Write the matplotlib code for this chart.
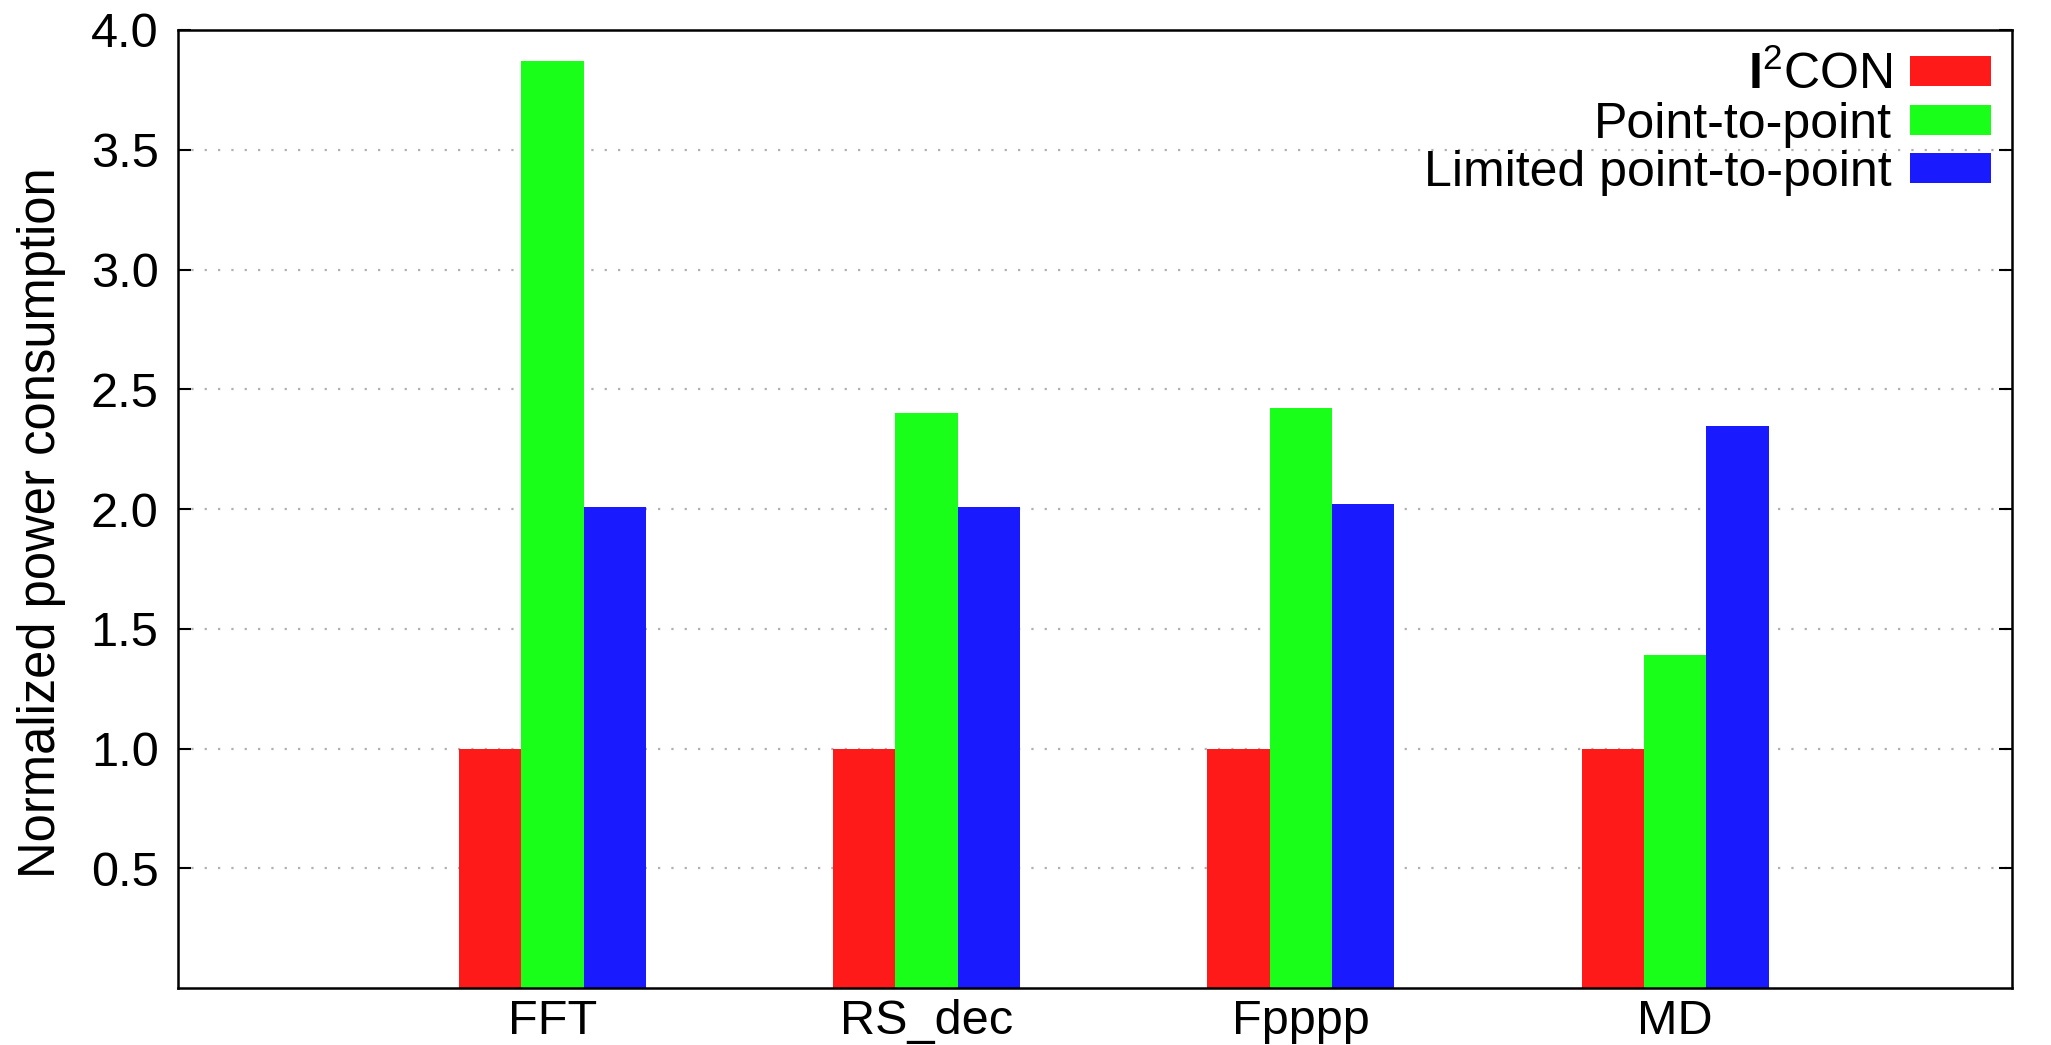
import numpy as np
import matplotlib
matplotlib.use('Agg')
import matplotlib.pyplot as plt

plt.rcParams['font.family'] = ['Liberation Sans', 'DejaVu Sans']
plt.rcParams['mathtext.fontset'] = 'custom'
plt.rcParams['mathtext.rm'] = 'Liberation Sans'
plt.rcParams['mathtext.it'] = 'Liberation Sans:italic'
plt.rcParams['mathtext.bf'] = 'Liberation Sans:bold'

benchmarks = ['FFT', 'RS_dec', 'Fpppp', 'MD']
i2con = [1.0, 1.0, 1.0, 1.0]
p2p = [3.87, 2.40, 2.42, 1.39]
limited_p2p = [2.01, 2.01, 2.02, 2.345]

labels = [r'$\mathbf{I}^{\mathrm{2}}$CON', 'Point-to-point', 'Limited point-to-point']
colors = ['#ff1a1a', '#1aff1a', '#1a1aff']

fig = plt.figure(figsize=(20.51, 10.45), dpi=100)
ax = fig.add_axes([0.0868, 0.0545, 0.8942, 0.9168])

x = np.arange(len(benchmarks))
w = 1.0 / 6
for k, (vals, lab, col) in enumerate(zip([i2con, p2p, limited_p2p], labels, colors)):
    ax.bar(x + (k - 1) * w, vals, w, color=col, label=lab, zorder=2, linewidth=0)

ax.set_xlim(-1, 3.9)
ax.set_ylim(0, 4.0)
ax.set_yticks([0.5, 1.0, 1.5, 2.0, 2.5, 3.0, 3.5, 4.0])
ax.set_yticklabels(['0.5', '1.0', '1.5', '2.0', '2.5', '3.0', '3.5', '4.0'])
ax.set_xticks(x)
ax.set_xticklabels(benchmarks)

ax.tick_params(axis='y', direction='in', length=9.5, width=1.5, labelsize=35,
               pad=14, right=True)
ax.tick_params(axis='x', length=0, labelsize=35, pad=8)
for s in ax.spines.values():
    s.set_linewidth(1.8)

ax.yaxis.grid(True, linestyle=(0, (1, 5)), color='#b0b0b0', linewidth=1.6, zorder=0)
ax.set_axisbelow(True)

ax.set_ylabel('Normalized power consumption', fontsize=36.5)
ax.yaxis.set_label_coords(-0.061, 0.486)

ax.legend(loc='upper right', frameon=False, fontsize=36, markerfirst=False,
          handlelength=1.62, handleheight=0.55, handletextpad=0.36,
          labelspacing=0.05, borderpad=0, borderaxespad=0.42)

fig.savefig('out.png', dpi=100)
